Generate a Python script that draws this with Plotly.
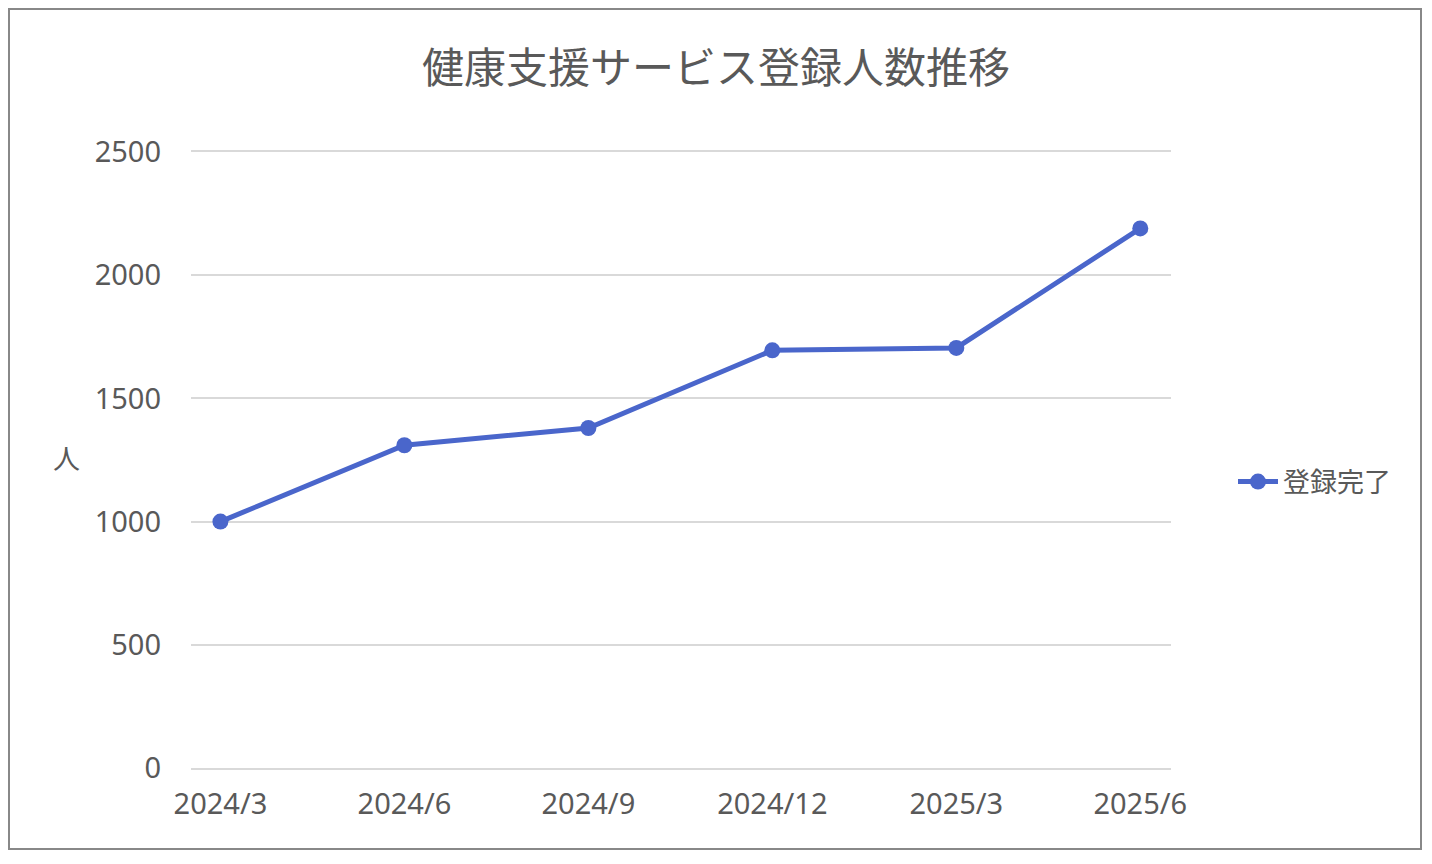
import plotly.graph_objects as go

# ---------------------------------------------------------------------------
# Data
# ---------------------------------------------------------------------------
MONTHS = ["2024/3", "2024/6", "2024/9", "2024/12", "2025/3", "2025/6"]
REGISTERED = [1000, 1310, 1380, 1695, 1705, 2190]
Y_TICKS = [0, 500, 1000, 1500, 2000, 2500]

TITLE = "健康支援サービス登録人数推移"
SERIES_NAME = "登録完了"
Y_TITLE = "人"

# ---------------------------------------------------------------------------
# Style
# ---------------------------------------------------------------------------
COLOR_LINE = "#4A66CB"
COLOR_TEXT = "#595959"
COLOR_GRID = "#D9D9D9"
COLOR_BORDER = "#888888"
FONT = "Noto Sans, Noto Sans CJK JP, sans-serif"

# the page body has an 8px margin, so the figure is 16px smaller than the window
BODY = 8
W, H = 1432 - 2 * BODY, 864 - 2 * BODY
PLOT_L, PLOT_R, PLOT_T, PLOT_B = 191, 1171, 152, 768   # in window pixels
M_L, M_T = PLOT_L - BODY, PLOT_T - BODY
M_R, M_B = W - (PLOT_R - BODY), H - (PLOT_B - BODY)
PW, PH = PLOT_R - PLOT_L, PLOT_B - PLOT_T


def px_x(x):
    return (x - PLOT_L) / PW


def px_y(y):
    return (PLOT_B - y) / PH


fig = go.Figure()

fig.add_trace(go.Scatter(
    x=MONTHS,
    y=REGISTERED,
    name=SERIES_NAME,
    mode="lines+markers",
    line=dict(color=COLOR_LINE, width=5),
    marker=dict(color=COLOR_LINE, size=16),
))

# x-axis line + mirror give the gridlines at 0 and 2500 (edge gridlines are skipped)
fig.update_xaxes(
    type="category",
    range=[-0.16, 5.167],
    showgrid=False,
    showline=True,
    linecolor=COLOR_GRID,
    linewidth=1.5,
    mirror=True,
    zeroline=False,
    ticks="",
    ticklabelstandoff=9,
    tickfont=dict(size=29, color=COLOR_TEXT),
)
fig.update_yaxes(
    range=[0, 2500],
    tickvals=Y_TICKS,
    showgrid=True,
    gridcolor=COLOR_GRID,
    gridwidth=1.5,
    zeroline=False,
    showline=False,
    ticks="",
    ticklabelstandoff=29,
    tickfont=dict(size=29, color=COLOR_TEXT),
)

# y-axis title kept horizontal, as in the original
fig.add_annotation(
    text=Y_TITLE, xref="paper", yref="paper",
    x=px_x(66), y=px_y(458), xanchor="center", yanchor="middle",
    showarrow=False, font=dict(size=27, color=COLOR_TEXT),
)

# outer chart border
fig.add_shape(
    type="rect", xref="paper", yref="paper",
    x0=px_x(9), x1=px_x(1421), y0=px_y(849), y1=px_y(9),
    line=dict(color=COLOR_BORDER, width=2),
    fillcolor="rgba(0,0,0,0)", layer="below",
)

fig.update_layout(
    width=W, height=H,
    margin=dict(l=M_L, r=M_R, t=M_T, b=M_B),
    paper_bgcolor="white",
    plot_bgcolor="white",
    font=dict(family=FONT, color=COLOR_TEXT),
    title=dict(
        text=TITLE, x=0.5, xanchor="center",
        y=1 - (68 - BODY) / H, yanchor="middle",
        font=dict(size=42, color=COLOR_TEXT),
    ),
    showlegend=True,
    legend=dict(
        x=px_x(1233), y=px_y(482), xanchor="left", yanchor="middle",
        font=dict(size=27, color=COLOR_TEXT),
        bgcolor="rgba(0,0,0,0)",
        itemwidth=40,
    ),
)

fig.write_html("out.html")
